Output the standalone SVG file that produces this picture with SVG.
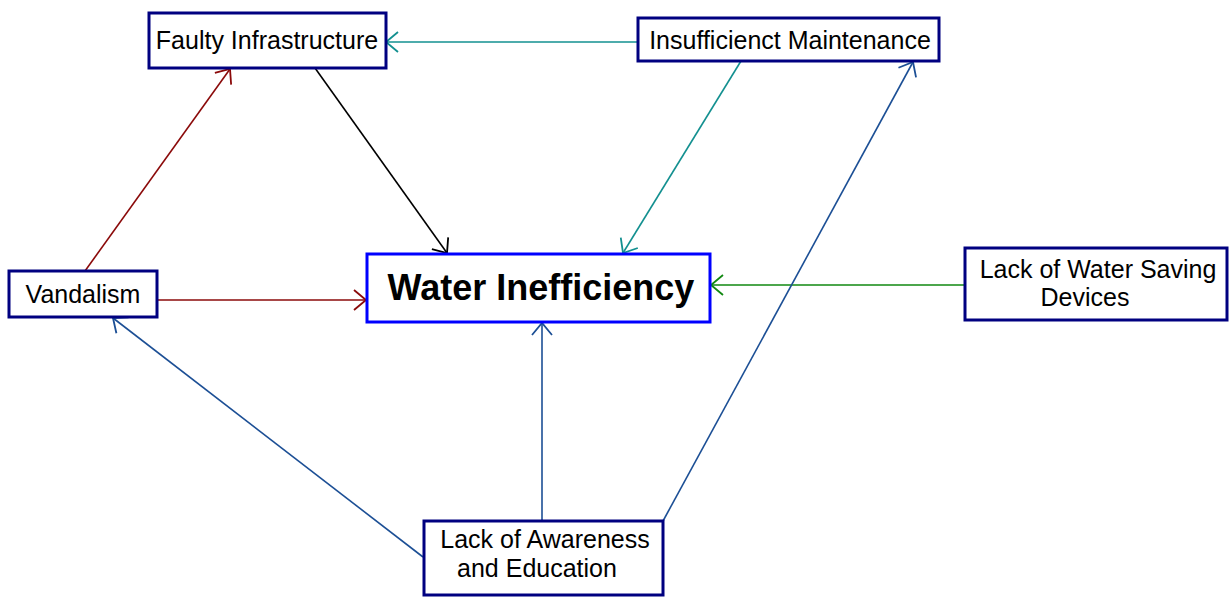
<svg xmlns="http://www.w3.org/2000/svg" width="1231" height="599" viewBox="0 0 1231 599">
<style>
.box{fill:#fff;stroke:#000080;stroke-width:3}
.main{fill:#fff;stroke:#0000ff;stroke-width:3}
.t{font-family:"Liberation Sans",Arial,sans-serif;font-size:25px;fill:#000}
.tb{font-family:"Liberation Sans",Arial,sans-serif;font-size:36px;font-weight:bold;fill:#000}
.c{fill:none;stroke-width:1.6}
</style>
<defs>
<marker id="aTeal" markerUnits="userSpaceOnUse" markerWidth="16" markerHeight="24" refX="13" refY="12" orient="auto"><path d="M1,2 L13,12 L1,22" fill="none" stroke="#139090" stroke-width="1.8"/></marker>
<marker id="aBlack" markerUnits="userSpaceOnUse" markerWidth="16" markerHeight="24" refX="13" refY="12" orient="auto"><path d="M1,2 L13,12 L1,22" fill="none" stroke="#000" stroke-width="1.8"/></marker>
<marker id="aRed" markerUnits="userSpaceOnUse" markerWidth="16" markerHeight="24" refX="13" refY="12" orient="auto"><path d="M1,2 L13,12 L1,22" fill="none" stroke="#8b0a0a" stroke-width="1.8"/></marker>
<marker id="aGreen" markerUnits="userSpaceOnUse" markerWidth="16" markerHeight="24" refX="13" refY="12" orient="auto"><path d="M1,2 L13,12 L1,22" fill="none" stroke="#118811" stroke-width="1.8"/></marker>
<marker id="aBlue" markerUnits="userSpaceOnUse" markerWidth="16" markerHeight="24" refX="13" refY="12" orient="auto"><path d="M1,2 L13,12 L1,22" fill="none" stroke="#1c4f95" stroke-width="1.8"/></marker>
</defs>
<g id="connectors">
<line class="c" x1="637" y1="42" x2="386" y2="42" stroke="#139090" marker-end="url(#aTeal)"/>
<line class="c" x1="315" y1="68" x2="447" y2="253" stroke="#000" marker-end="url(#aBlack)"/>
<line class="c" x1="741" y1="61" x2="623" y2="253" stroke="#139090" marker-end="url(#aTeal)"/>
<line class="c" x1="964" y1="285" x2="711" y2="285" stroke="#118811" marker-end="url(#aGreen)"/>
<line class="c" x1="85" y1="271" x2="230" y2="69" stroke="#8b0a0a" marker-end="url(#aRed)"/>
<line class="c" x1="157" y1="300" x2="366" y2="300" stroke="#8b0a0a" marker-end="url(#aRed)"/>
<line class="c" x1="423" y1="557" x2="113" y2="318" stroke="#1c4f95" marker-end="url(#aBlue)"/>
<line class="c" x1="542" y1="521" x2="542" y2="323" stroke="#1c4f95" marker-end="url(#aBlue)"/>
<line class="c" x1="663" y1="521" x2="913" y2="62" stroke="#1c4f95" marker-end="url(#aBlue)"/>
</g>
<g id="faulty">
<rect class="box" x="149" y="13" width="237" height="55"/>
<text class="t" x="267" y="49" text-anchor="middle">Faulty Infrastructure</text>
</g>
<g id="insufficient">
<rect class="box" x="638" y="18" width="301" height="43"/>
<text class="t" x="790" y="49" text-anchor="middle">Insufficienct Maintenance</text>
</g>
<g id="water">
<rect class="main" x="367" y="254" width="343" height="68"/>
<text class="tb" x="541" y="300" text-anchor="middle">Water Inefficiency</text>
</g>
<g id="vandalism">
<rect class="box" x="9" y="271" width="148" height="46"/>
<text class="t" x="83" y="303" text-anchor="middle">Vandalism</text>
</g>
<g id="devices">
<rect class="box" x="965" y="248" width="262" height="72"/>
<text class="t" x="1098" y="278" text-anchor="middle">Lack of Water Saving</text>
<text class="t" x="1085" y="306" text-anchor="middle">Devices</text>
</g>
<g id="awareness">
<rect class="box" x="424" y="521" width="239" height="74"/>
<text class="t" x="545" y="548" text-anchor="middle">Lack of Awareness</text>
<text class="t" x="537" y="577" text-anchor="middle">and Education</text>
</g>
</svg>
